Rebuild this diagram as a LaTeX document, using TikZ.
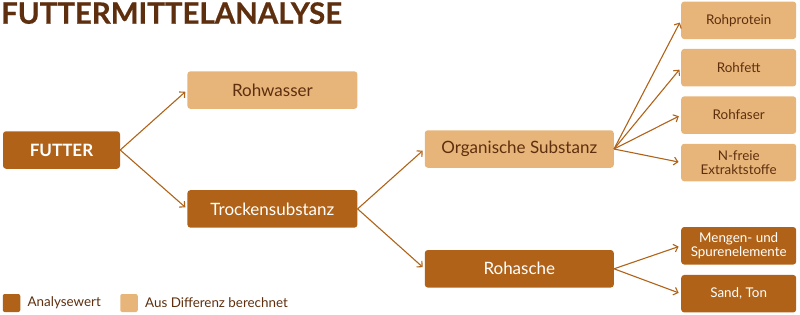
\documentclass[tikz,border=0pt]{standalone}
\usepackage{fontspec}
\setmainfont{Lato}
\newfontfamily\titelfont[BoldFeatures={FakeBold=0.6}]{Lato}
\usepackage{tikz}
\usetikzlibrary{arrows.meta,positioning}

\definecolor{analyse}{HTML}{B06318}
\definecolor{differenz}{HTML}{E7B57A}
\definecolor{braun}{HTML}{5E2F0E}

\begin{document}
\begin{tikzpicture}[
    x=1pt, y=-1pt,
    every node/.style={inner sep=0pt},
    box/.style={rounded corners=3pt, minimum height=37.5pt, align=center,
                font=\fontsize{17}{18}\selectfont},
    mess/.style={box, fill=analyse, text=white},
    diff/.style={box, fill=differenz, text=braun},
    klein/.style={minimum width=115pt, font=\fontsize{13.4}{13.6}\selectfont},
    gross/.style={minimum width=170pt},
    arrow/.style={-{Straight Barb[length=4pt,width=8pt]}, draw=analyse,
                  line width=1.1pt, shorten >=2.5pt},
    key/.style={rounded corners=2pt, minimum width=17.5pt, minimum height=18pt},
  ]
  \useasboundingbox (0,0) rectangle (800,314);
  \node[anchor=north west, font=\fontsize{29.4}{29.4}\selectfont\titelfont\bfseries, text=braun]
    (titel) at (1,2) {FUTTERMITTELANALYSE};
  \node[mess, minimum width=117pt, font=\fontsize{17}{18}\selectfont\bfseries]
    (futter) at (61.5,150) {FUTTER};
  \node[diff, gross, above right=22pt and 67pt of futter] (wasser) {Rohwasser};
  \node[mess, gross, below right=21pt and 67pt of futter] (ts) {Trockensubstanz};
  \node[diff, minimum width=189pt, above right=22pt and 67pt of ts] (os) {Organische Substanz};
  \node[mess, minimum width=189pt, below right=22pt and 67pt of ts] (ra) {Rohasche};
  \node[diff, klein, right=67pt of os, yshift=-13.5pt] (nfe) {N-freie\\Extraktstoffe};
  \node[diff, klein, above=9.5pt of nfe] (rfa) {Rohfaser};
  \node[diff, klein, above=9.5pt of rfa] (rfe) {Rohfett};
  \node[diff, klein, above=9.5pt of rfe] (rp) {Rohprotein};
  \node[mess, klein, right=67pt of ra, yshift=23pt] (spur) {Mengen- und\\Spurenelemente};
  \node[mess, klein, below=10pt of spur] (sand) {Sand, Ton};
  % Legende
  \node[key, fill=analyse] (k1) at (11.5,303) {};
  \node[right=7pt of k1, font=\fontsize{13.4}{13.6}\selectfont, text=braun] (t1) {Analysewert};
  \node[key, fill=differenz] (k2) at (129,303) {};
  \node[right=7pt of k2, font=\fontsize{13.4}{13.6}\selectfont, text=braun] (t2) {Aus Differenz berechnet};
  % Pfeile
  \draw[arrow] (futter.east) -- (wasser.west);
  \draw[arrow] (futter.east) -- (ts.west);
  \draw[arrow] (ts.east) -- (os.west);
  \draw[arrow] (ts.east) -- (ra.west);
  \foreach \z in {rp,rfe,rfa,nfe}
    \draw[arrow] (os.east) -- (\z.west);
  \draw[arrow] (ra.east) -- (spur.west);
  \draw[arrow] (ra.east) -- (sand.west);
\end{tikzpicture}
\end{document}
